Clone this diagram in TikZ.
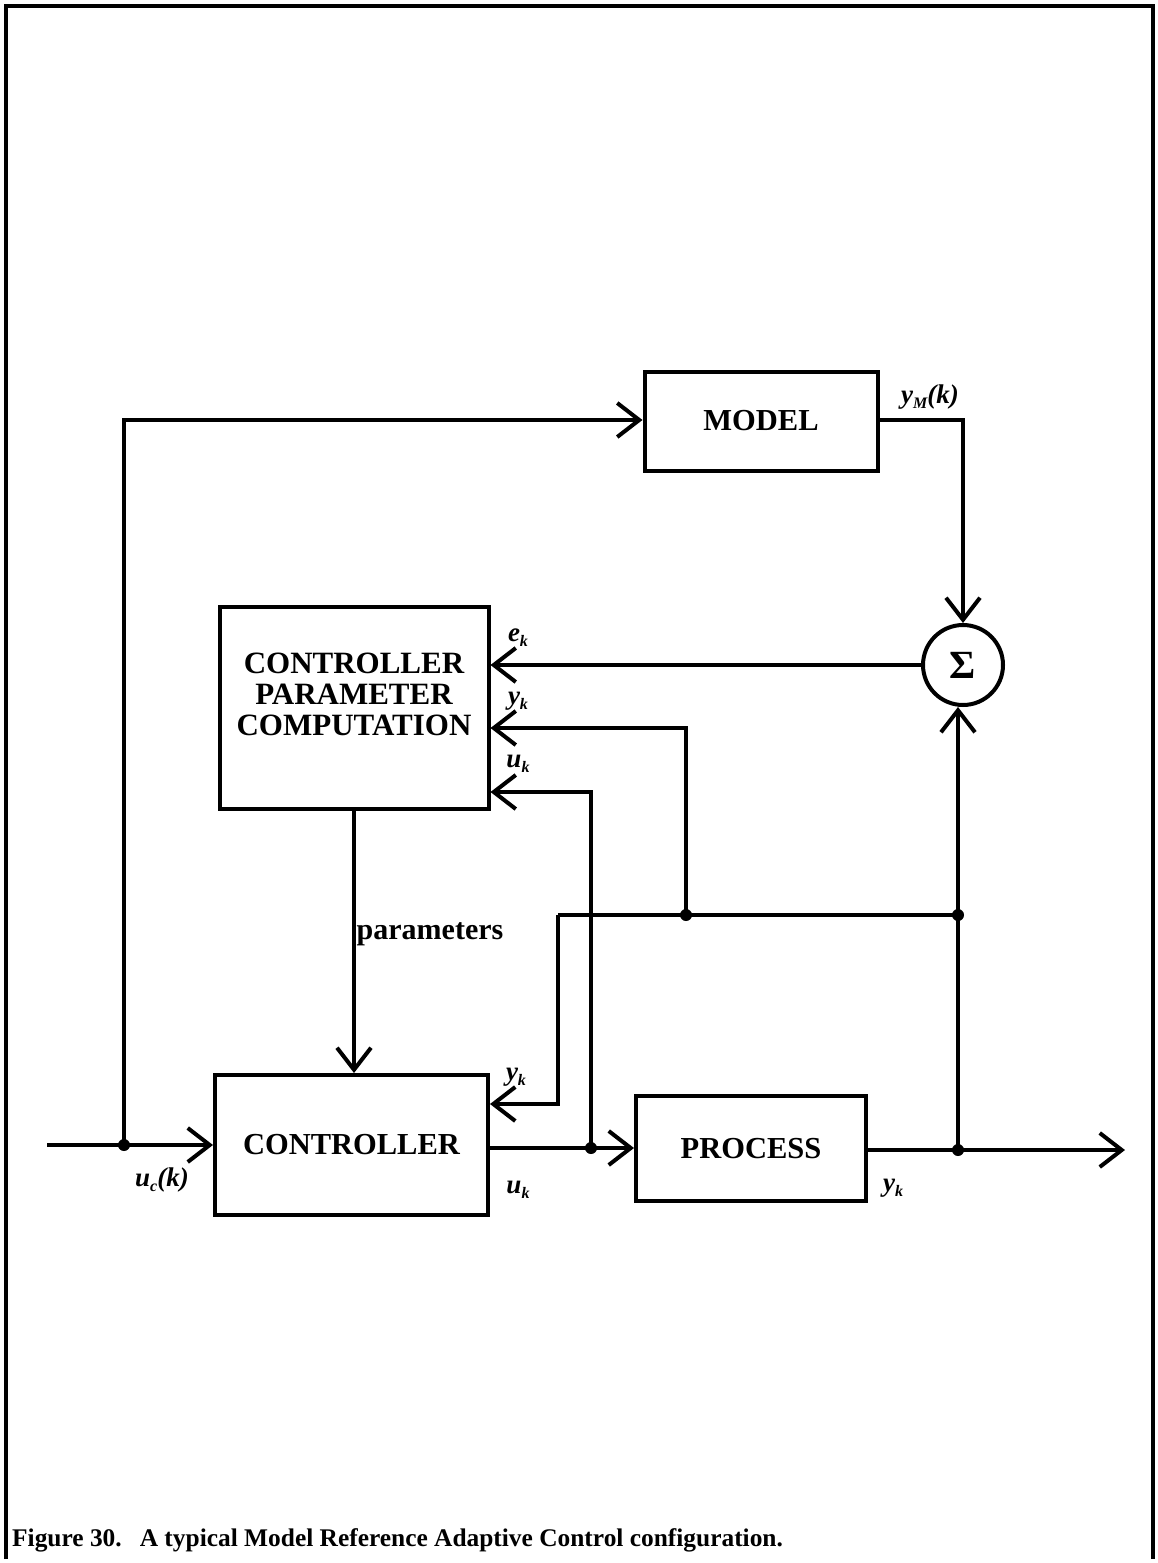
\documentclass[tikz,border=0pt]{standalone}
\usepackage{fontspec}
\setmainfont{Liberation Serif}
\usetikzlibrary{arrows.meta}
\begin{document}
\begin{tikzpicture}[x=1pt,y=-1pt,
  blk/.style={draw,line width=4pt,inner sep=0pt,font=\fontsize{30.5}{32}\selectfont\bfseries,align=center},
  wire/.style={line width=4pt},
  arr/.style={wire,-{Straight Barb[length=22pt,width=34pt,line width=4pt]}},
  lab/.style={font=\fontsize{27}{28}\selectfont\bfseries\itshape,inner sep=0pt}]
\useasboundingbox (0,0) rectangle (1158,1563);
\draw[line width=4pt] (6,1559) -- (6,6) -- (1153,6) -- (1153,1559);
% blocks
\node[blk,minimum width=233pt,minimum height=99pt] (model) at (761,421) {MODEL};
\node[blk,minimum width=269pt,minimum height=202pt] (cpc) at (354,708) {};
\node[font=\fontsize{31}{32}\selectfont\bfseries,align=center,inner sep=0pt] (cpctext) at (354,694) {CONTROLLER\\[-1pt]PARAMETER\\[-1pt]COMPUTATION};
\node[blk,minimum width=273pt,minimum height=140pt] (ctrl) at (351.5,1145) {CONTROLLER};
\node[blk,minimum width=230pt,minimum height=105pt] (proc) at (751,1148.5) {PROCESS};
\node[draw,circle,line width=4pt,minimum size=80pt,inner sep=0pt,font=\fontsize{40}{40}\selectfont\bfseries] (sum) at (963,665) {Σ};
% coordinates
\coordinate (in) at (47,1145);
\coordinate (j1) at (124,1145);
\coordinate (j1t) at (124,420);
\coordinate (j2) at (591,1148);
\coordinate (j2t) at (591,792);
\coordinate (j3) at (958,1150);
\coordinate (j4) at (958,915);
\coordinate (j5) at (686,915);
\coordinate (j5t) at (686,728);
\coordinate (j6) at (558,915);
\coordinate (j6b) at (558,1104);
\coordinate (out) at (1125,1150);
\coordinate (mr) at (963,420);
% connectors
\draw[wire] (in) -- (j1);
\draw[arr] (j1) -- (ctrl.west |- j1);
\draw[arr] (j1) -- (j1t) -- (model.west |- j1t);
\draw[wire] (ctrl.east |- j2) -- (j2);
\draw[arr] (j2) -- (proc.west |- j2);
\draw[arr] (j2) -- (j2t) -- (cpc.east |- j2t);
\draw[wire] (proc.east |- j3) -- (j3);
\draw[arr] (j3) -- (out);
\draw[arr] (j3) -- (sum.south -| j3);
\draw[wire] (j4) -- (j6);
\draw[arr] (j5) -- (j5t) -- (cpc.east |- j5t);
\draw[arr] (j6) -- (j6b) -- (ctrl.east |- j6b);
\draw[arr] (model.east |- mr) -- (mr) -- (sum.north);
\draw[arr] (sum.west) -- (cpc.east |- sum.west);
\draw[arr] (cpc.south) -- (cpc.south |- ctrl.north);
% dots
\fill (j1) circle (6pt);
\fill (j2) circle (6pt);
\fill (j3) circle (6pt);
\fill (j4) circle (6pt);
\fill (j5) circle (6pt);
% labels
\node[lab] (lym) at (930,397) {y\raisebox{-5pt}{\fontsize{16}{16}\selectfont M}(k)};
\node[lab] (lek) at (518,638) {e\raisebox{-5pt}{\fontsize{16}{16}\selectfont k}};
\node[lab] (lyk1) at (518,701) {y\raisebox{-5pt}{\fontsize{16}{16}\selectfont k}};
\node[lab] (luk1) at (518,764) {u\raisebox{-5pt}{\fontsize{16}{16}\selectfont k}};
\node[lab] (lyk2) at (516,1077) {y\raisebox{-5pt}{\fontsize{16}{16}\selectfont k}};
\node[lab] (luk2) at (518,1190) {u\raisebox{-5pt}{\fontsize{16}{16}\selectfont k}};
\node[lab] (lyk3) at (893,1188) {y\raisebox{-5pt}{\fontsize{16}{16}\selectfont k}};
\node[lab] (luc) at (162,1180) {u\raisebox{-5pt}{\fontsize{16}{16}\selectfont c}(k)};
\node[font=\fontsize{30}{30}\selectfont\bfseries,inner sep=0pt] (par) at (430,934) {parameters};
\node[font=\fontsize{25.4}{27}\selectfont\bfseries,anchor=base west,inner sep=0pt] (cap) at (12,1546) {Figure 30.\hspace{18pt}A typical Model Reference Adaptive Control configuration.};
\end{tikzpicture}
\end{document}
